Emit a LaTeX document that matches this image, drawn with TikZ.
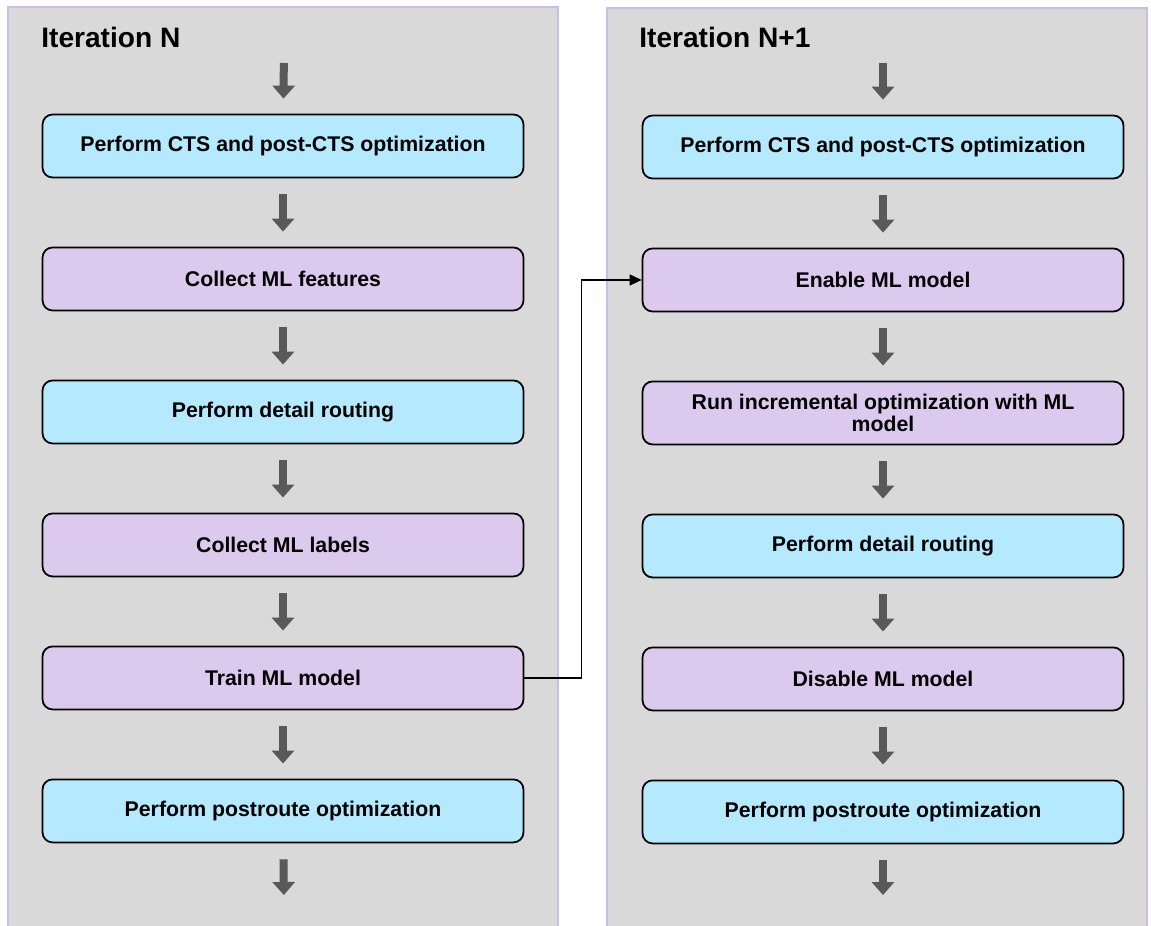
\documentclass[tikz,border=0pt]{standalone}
\usepackage{fontspec}
\setmainfont{Liberation Sans}
\usepackage{tikz}
\usetikzlibrary{positioning,arrows.meta}
\definecolor{panelcol}{RGB}{217,217,217}
\definecolor{edgecol} {RGB}{206,188,232}
\definecolor{cyancol} {RGB}{181,233,253}
\definecolor{lilaccol}{RGB}{219,201,238}
\definecolor{stepcol} {RGB}{89,89,89}

\begin{document}
\begin{tikzpicture}[
  x=0.02cm,y=-0.02cm,
  cbox/.style={rectangle,rounded corners=0.2cm,
               draw=black,fill=cyancol,line width=1pt,
               minimum width=9.62cm,minimum height=1.26cm,
               font=\fontsize{12.1}{12.6}\selectfont\bfseries,align=center},
  lbox/.style={cbox,fill=lilaccol},
  ttl/.style={anchor=west,inner sep=0pt,
              font=\fontsize{16}{19}\selectfont\bfseries},
  blk/.style={-{Triangle[width=0.44cm,length=0.26cm]},line width=0.16cm,
              stepcol,shorten <=0.32cm,shorten >=0.3cm},
  link/.style={-{Triangle[width=0.22cm,length=0.24cm]},line width=0.9pt,black},
  node distance=1.365cm
]
\clip (0,0) rectangle (1151,925);
% two iteration panels
\fill[panelcol] (8,7) rectangle (558,940);
\draw[edgecol,line width=0.8pt] (8,940) |- (558,7) -- (558,940);
\fill[panelcol] (607,8) rectangle (1147,940);
\draw[edgecol,line width=0.8pt] (607,940) |- (1147,8) -- (1147,940);

\node[ttl] (itN)  at (41,37)  {Iteration N};
\node[ttl] (itN1) at (639,37) {Iteration N+1};

% iteration N
\node[cbox] (cts1) at (283,146) {Perform CTS and post-CTS optimization};
\node[lbox,below=of cts1]   (feat1)  {Collect ML features};
\node[cbox,below=of feat1]  (route1) {Perform detail routing};
\node[lbox,below=of route1] (lab1)   {Collect ML labels};
\node[lbox,below=of lab1]   (train1) {Train ML model};
\node[cbox,below=of train1] (post1)  {Perform postroute optimization};
\coordinate (in1)  at (284,47);
\coordinate (out1) at (284,910);

% iteration N+1
\node[cbox] (cts2) at (883,147) {Perform CTS and post-CTS optimization};
\node[lbox,below=of cts2]     (enable2)  {Enable ML model};
\node[lbox,below=of enable2]  (runinc2)  {Run incremental optimization with ML\\model};
\node[cbox,below=of runinc2]  (route2)   {Perform detail routing};
\node[lbox,below=of route2]   (disable2) {Disable ML model};
\node[cbox,below=of disable2] (post2)    {Perform postroute optimization};
\coordinate (in2)  at (883,47);
\coordinate (out2) at (883,910);

\draw[blk] (in1) -- (cts1);
\draw[blk] (cts1) -- (feat1);
\draw[blk] (feat1) -- (route1);
\draw[blk] (route1) -- (lab1);
\draw[blk] (lab1) -- (train1);
\draw[blk] (train1) -- (post1);
\draw[blk] (post1) -- (out1);

\draw[blk] (in2) -- (cts2);
\draw[blk] (cts2) -- (enable2);
\draw[blk] (enable2) -- (runinc2);
\draw[blk] (runinc2) -- (route2);
\draw[blk] (route2) -- (disable2);
\draw[blk] (disable2) -- (post2);
\draw[blk] (post2) -- (out2);

% trained model handed to the next iteration
\draw[link] (train1.east) -- ++(57,0) |- (enable2.west);
\end{tikzpicture}
\end{document}
